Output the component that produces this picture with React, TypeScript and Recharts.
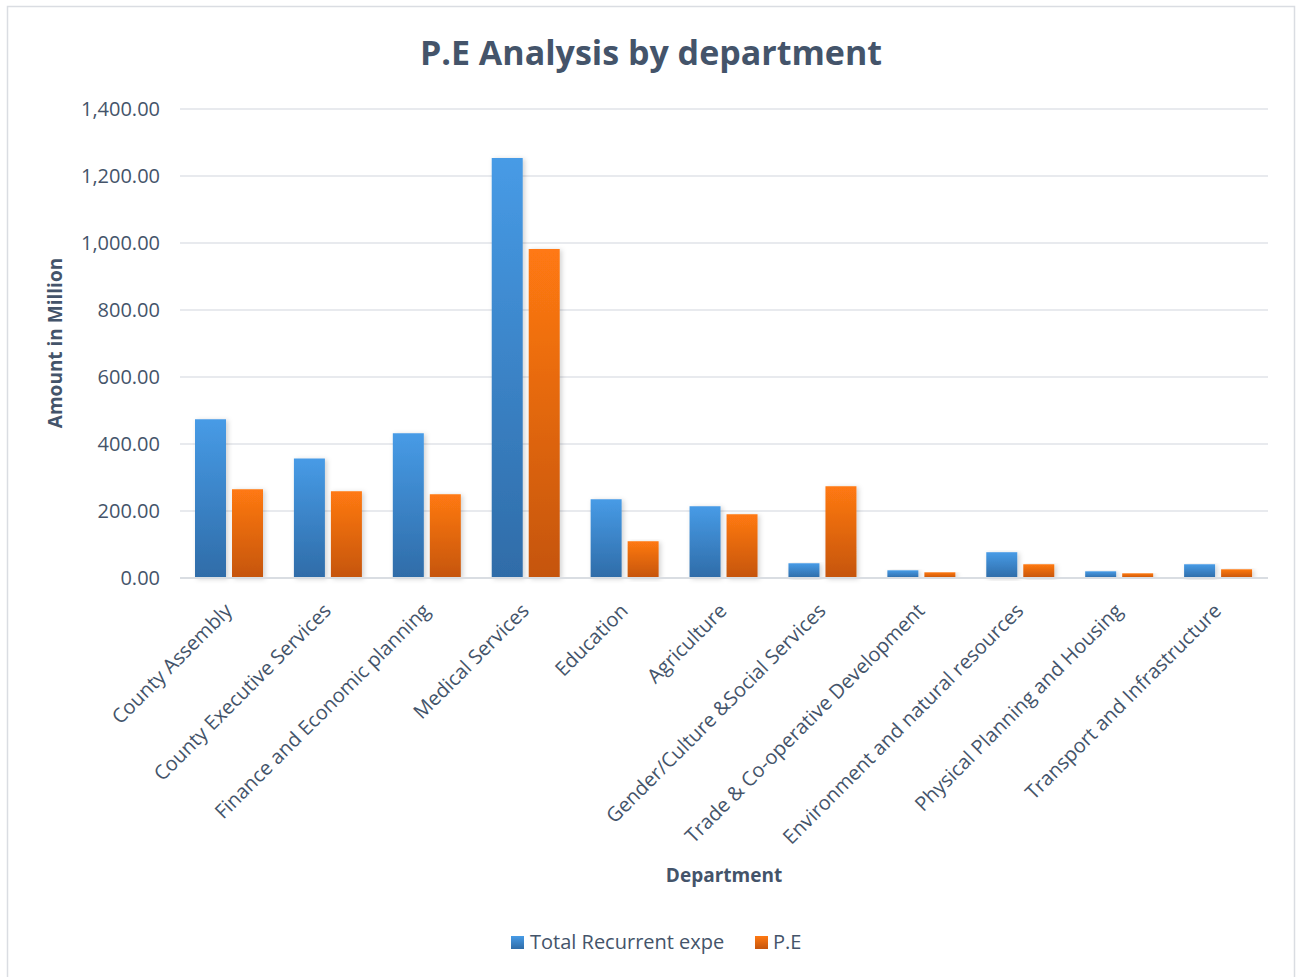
import { BarChart, Bar, XAxis, YAxis, CartesianGrid, Rectangle } from 'recharts';

const departments = [
  'County Assembly',
  'County Executive Services',
  'Finance and Economic planning',
  'Medical Services',
  'Education',
  'Agriculture',
  'Gender/Culture &Social Services',
  'Trade & Co-operative Development',
  'Environment and natural resources',
  'Physical Planning and Housing',
  'Transport and Infrastructure',
];
const totalRecurrent = [474, 357, 432, 1254, 235, 214, 44, 23, 77, 20, 41];
const personnel = [265, 259, 250, 982, 110, 190, 274, 17, 41, 14, 26];
const yTicks = [0, 200, 400, 600, 800, 1000, 1200, 1400];

const data = departments.map((name, i) => ({
  name,
  total: totalRecurrent[i],
  pe: personnel[i],
}));

const textColor = '#44546A';
const font = '"Open Sans", sans-serif';

const fmt = (v: number) =>
  v.toLocaleString('en-US', { minimumFractionDigits: 2, maximumFractionDigits: 2 });

const AngledTick = ({ x, y, payload }: any) => (
  <text
    x={0}
    y={0}
    transform={`translate(${x + 4},${y + 26}) rotate(-45)`}
    textAnchor="end"
    fill={textColor}
    fontSize={20}
    fontFamily={font}
  >
    {payload.value}
  </text>
);

const ShadowBar = (props: any) => <Rectangle {...props} filter="url(#barShadow)" />;

export default function App() {
  return (
    <div style={{ position: 'absolute', left: 0, top: 0, width: 1296, height: 977, background: '#fff', fontFamily: font }}>
      <BarChart
        width={1296}
        height={977}
        data={data}
        margin={{ top: 109, right: 28, left: 0, bottom: 99 }}
        barGap={6}
        barCategoryGap={15}
      >
        <defs>
          <linearGradient id="blueGrad" x1="0" y1="0" x2="0" y2="1">
            <stop offset="0%" stopColor="#479BE6" />
            <stop offset="100%" stopColor="#2F6CA8" />
          </linearGradient>
          <linearGradient id="orangeGrad" x1="0" y1="0" x2="0" y2="1">
            <stop offset="0%" stopColor="#FF7912" />
            <stop offset="100%" stopColor="#C5550D" />
          </linearGradient>
          <filter id="barShadow" x="-20%" y="-5%" width="150%" height="115%">
            <feDropShadow dx="2" dy="1" stdDeviation="2.5" floodColor="#000" floodOpacity="0.18" />
          </filter>
        </defs>
        <rect x={7.5} y={6.5} width={1287} height={1010} fill="none" stroke="#DADDE2" strokeWidth={1.5} />
        <text x={651} y={65} textAnchor="middle" fill={textColor} fontSize={34} fontWeight={700} fontFamily={font}>
          P.E Analysis by department
        </text>
        <text
          x={62}
          y={343}
          transform="rotate(-90 62 343)"
          textAnchor="middle"
          fill={textColor}
          fontSize={19}
          fontWeight={700}
          fontFamily={font}
        >
          Amount in Million
        </text>
        <text x={724} y={882} textAnchor="middle" fill={textColor} fontSize={19} fontWeight={700} fontFamily={font}>
          Department
        </text>
        <CartesianGrid vertical={false} stroke="#E0E3E8" strokeWidth={1.5} />
        <XAxis
          dataKey="name"
          interval={0}
          height={300}
          tickLine={false}
          axisLine={{ stroke: '#D9DDE2', strokeWidth: 2 }}
          tick={<AngledTick />}
        />
        <YAxis
          width={180}
          domain={[0, 1400]}
          ticks={yTicks}
          tickFormatter={fmt}
          tickLine={false}
          axisLine={false}
          tickMargin={14}
          tick={{ fill: textColor, fontSize: 20, fontFamily: font }}
        />
        <Bar dataKey="total" name="Total Recurrent expe" fill="url(#blueGrad)" shape={ShadowBar} isAnimationActive={false} />
        <Bar dataKey="pe" name="P.E" fill="url(#orangeGrad)" shape={ShadowBar} isAnimationActive={false} />
        <g fontFamily={font} fontSize={20} fill={textColor}>
          <rect x={511} y={936} width={13} height={13} fill="url(#blueGrad)" />
          <text x={530} y={949}>Total Recurrent expe</text>
          <rect x={755} y={936} width={13} height={13} fill="url(#orangeGrad)" />
          <text x={773} y={949}>P.E</text>
        </g>
      </BarChart>
    </div>
  );
}
